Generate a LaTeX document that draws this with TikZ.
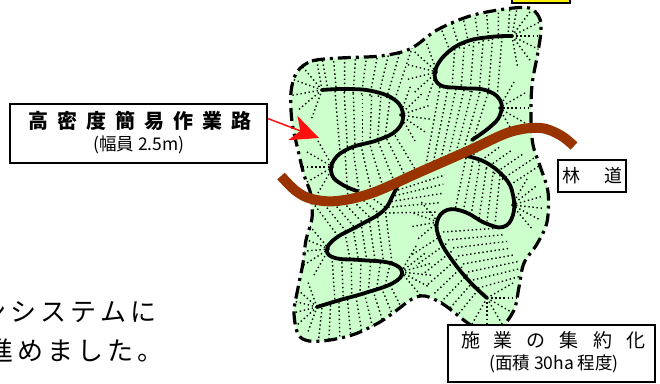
\documentclass[tikz,border=0pt]{standalone}
\usepackage{fontspec}
\newfontfamily\gothic{Noto Sans CJK JP}
\usetikzlibrary{arrows.meta,calc}

\definecolor{forestgreen}{HTML}{CCFFCC}
\definecolor{roadbrown}{HTML}{993300}
\definecolor{arrowred}{HTML}{FF1010}

\tikzset{
  x=1pt, y=-1pt,
  skid/.style={line width=1.4pt, dash pattern=on 1.4pt off 2.7pt, black},
  boundary/.style={line width=3.2pt, dash pattern=on 13pt off 5pt on 3pt off 5pt},
  workroad/.style={line width=3.8pt, line cap=round},
  forestroad/.style={line width=10pt, roadbrown},
  labelbox/.style={draw=black, line width=1.6pt, fill=white, inner sep=0pt},
  plain/.style={inner sep=0pt, font=\gothic},
}

% a band of skid trails between two segments, and a fan of them around a point
\newcommand\skidband[5]{\foreach \i in {0,...,#5} {\draw[skid] ($#1!{\i/#5}!#2$) -- ($#3!{\i/#5}!#4$);}}
\newcommand\skidfan[5]{\foreach \i in {0,...,#5} {\draw[skid] #1 -- ++({#2+(#3-#2)*\i/#5}:#4);}}

\begin{document}
\begin{tikzpicture}
\useasboundingbox (0,0) rectangle (660,383);
\clip (0,0) rectangle (660,383);

% stand area and its skid trails
\begin{scope}
  \path[clip, preaction={fill=forestgreen}] plot[smooth cycle, tension=0.55] coordinates {
    (297,72) (312,61) (340,58) (380,56) (410,49) (437,30) (470,16) (505,9) (529,8) (539,17)
    (541,30) (538,52) (532,85) (531,118) (533,145) (540,166) (548,192) (547,222) (537,244)
    (524,263) (519,287) (514,310) (500,328) (480,330) (465,321) (443,304) (425,296) (412,299)
    (397,310) (380,322) (355,334) (330,340) (309,341) (298,334) (294,312) (298,288) (303,263)
    (306,240) (312,218) (311,195) (304,175) (298,150) (292,122) (291,92)};
  % around the upper left work road
  \skidband{(328,90)}{(395,99)}{(322,58)}{(412,48)}{8}
  \skidband{(335,91)}{(390,98)}{(340,152)}{(385,138)}{6}
  \skidband{(345,152)}{(393,132)}{(348,200)}{(418,174)}{6}
  \skidfan{(322,90)}{100}{250}{30pt}{5}
  \skidfan{(400,115)}{70}{-60}{30pt}{5}
  \skidfan{(333,167)}{120}{240}{30pt}{4}
  % around the upper right work road
  \skidband{(450,51)}{(508,36)}{(440,26)}{(510,6)}{6}
  \skidband{(455,45)}{(502,37)}{(452,88)}{(497,98)}{5}
  \skidband{(440,87)}{(488,93)}{(425,170)}{(470,150)}{6}
  \skidfan{(512,36)}{80}{-80}{32pt}{6}
  \skidfan{(437,72)}{110}{250}{30pt}{5}
  \skidfan{(499,108)}{60}{-60}{30pt}{4}
  % around the lower left work road
  \skidband{(338,236)}{(385,207)}{(310,199)}{(366,194)}{6}
  \skidband{(345,233)}{(385,208)}{(350,259)}{(392,263)}{5}
  \skidband{(398,190)}{(385,213)}{(445,175)}{(438,212)}{4}
  \skidband{(332,257)}{(390,264)}{(335,302)}{(385,286)}{6}
  \skidband{(322,308)}{(390,285)}{(318,345)}{(405,315)}{8}
  \skidfan{(329,249)}{130}{240}{30pt}{4}
  \skidfan{(401,272)}{60}{-50}{32pt}{5}
  \skidfan{(317,307)}{110}{250}{28pt}{5}
  % around the lower right work road
  \skidband{(470,157)}{(510,185)}{(490,142)}{(545,162)}{5}
  \skidband{(466,158)}{(500,175)}{(455,210)}{(495,224)}{5}
  \skidband{(443,232)}{(478,288)}{(500,228)}{(525,275)}{7}
  \skidband{(441,236)}{(478,290)}{(410,256)}{(452,322)}{7}
  \skidfan{(512,205)}{60}{-50}{30pt}{5}
  \skidfan{(438,222)}{130}{220}{26pt}{3}
  \skidfan{(487,298)}{30}{-120}{30pt}{5}
\end{scope}

% stand boundary
\draw[boundary] plot[smooth cycle, tension=0.55] coordinates {
    (297,72) (312,61) (340,58) (380,56) (410,49) (437,30) (470,16) (505,9) (529,8) (539,17)
    (541,30) (538,52) (532,85) (531,118) (533,145) (540,166) (548,192) (547,222) (537,244)
    (524,263) (519,287) (514,310) (500,328) (480,330) (465,321) (443,304) (425,296) (412,299)
    (397,310) (380,322) (355,334) (330,340) (309,341) (298,334) (294,312) (298,288) (303,263)
    (306,240) (312,218) (311,195) (304,175) (298,150) (292,122) (291,92)};

% high-density work roads
\draw[workroad] plot[smooth, tension=0.7] coordinates {
    (322,90) (345,89) (372,91) (395,100) (403,115) (397,130) (378,140) (350,148) (334,160)
    (332,175) (343,185) (357,191)};
\draw[workroad] plot[smooth, tension=0.7] coordinates {
    (512,36) (490,37) (465,42) (445,55) (435,72) (440,85) (460,88) (485,90) (500,100)
    (500,115) (490,127) (472,140)};
\draw[workroad] plot[smooth, tension=0.7] coordinates {
    (400,180) (393,195) (383,211) (360,225) (336,238) (327,250) (335,258) (360,260) (390,263)
    (402,272) (393,283) (365,293) (340,300) (317,307)};
\draw[workroad] plot[smooth, tension=0.7] coordinates {
    (462,155) (485,162) (505,178) (513,195) (513,215) (503,227) (485,223) (465,212) (447,210)
    (437,222) (440,240) (452,260) (470,282) (487,298)};

% forest road
\draw[forestroad] plot[smooth, tension=0.6] coordinates {
    (281,176) (296,191) (312,199) (337,201) (372,193) (420,172) (470,150) (510,132) (540,128)
    (560,135) (574,146)};

% box at the top edge
\node[labelbox, fill=yellow, minimum width=58pt, minimum height=24pt] (topbox) at (541,-9) {};

% labels
\node[labelbox, minimum width=257pt, minimum height=59pt] (roadbox) at (138.5,133.5) {};
\node[plain, font=\gothic\bfseries\fontsize{20}{20}\selectfont] (roadtitle) at (140,121)
  {高\hspace{9pt}密\hspace{9pt}度\hspace{9pt}簡\hspace{9pt}易\hspace{9pt}作\hspace{9pt}業\hspace{9pt}路};
\node[plain, font=\gothic\fontsize{17.5}{17.5}\selectfont] (roadwidth) at (139,145) {(幅員 2.5m)};

\coordinate (arrowtip) at (319,138);
\draw[arrowred, line width=1.5pt, -{Stealth[length=28pt, width=26pt, inset=8pt]}]
  ([yshift=15pt]roadbox.east) -- (arrowtip);

\node[labelbox, minimum width=68pt, minimum height=32pt] (forestbox) at (592,176) {};
\node[plain, font=\gothic\fontsize{18}{18}\selectfont] (foresttext) at (592,176)
  {林\hspace{24pt}道};

\node[labelbox, minimum width=207pt, minimum height=57pt] (standbox) at (551.5,353.5) {};
\node[plain, font=\gothic\fontsize{19}{19}\selectfont] (standtitle) at (553,340)
  {施\hspace{14pt}業\hspace{14pt}の\hspace{14pt}集\hspace{14pt}約\hspace{14pt}化};
\node[plain, font=\gothic\fontsize{17.5}{17.5}\selectfont] (standarea) at (554,364)
  {(面積\hspace{4pt}30ha\hspace{4pt}程度)};

% body text at the left edge
\node[plain, anchor=east, font=\gothic\fontsize{26}{26}\selectfont] (bodyone) at (157,312)
  {ン\hspace{4pt}シ\hspace{4pt}ス\hspace{4pt}テ\hspace{4pt}ム\hspace{4pt}に};
\node[plain, anchor=east, font=\gothic\fontsize{26}{26}\selectfont] (bodytwo) at (164,351)
  {進\hspace{4pt}め\hspace{4pt}ま\hspace{4pt}し\hspace{4pt}た\hspace{4pt}。};
\end{tikzpicture}
\end{document}
